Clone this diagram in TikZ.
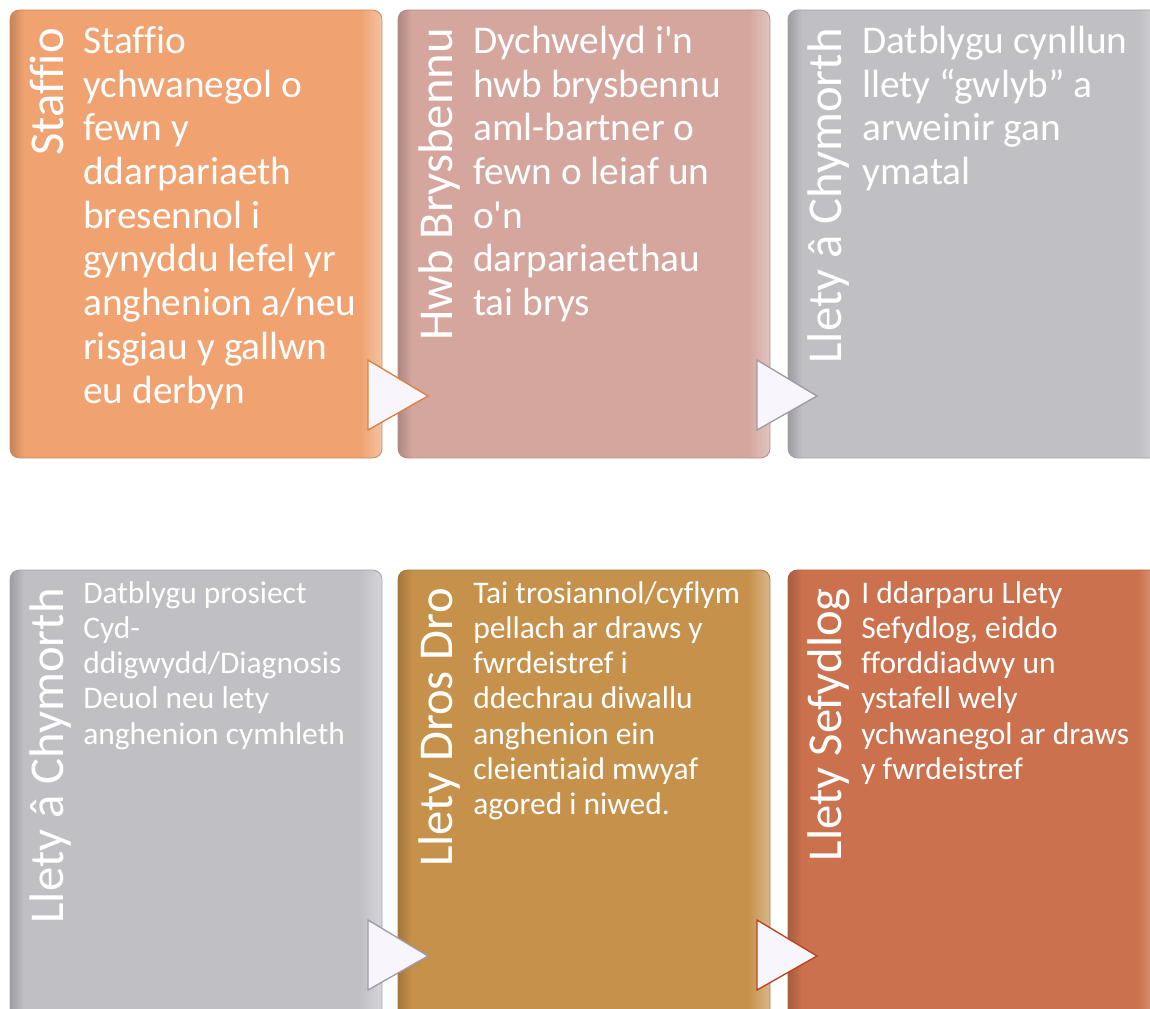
\documentclass[tikz,border=0pt]{standalone}
\usepackage{fontspec}
\setmainfont{Carlito}[Ligatures={TeXOff,CommonOff}]

\definecolor{staffcol}{HTML}{F0A270}
\definecolor{hwbcol}{HTML}{D4A69E}
\definecolor{greycol}{HTML}{C0BFC4}
\definecolor{droscol}{HTML}{C6914B}
\definecolor{sefcol}{HTML}{CB714E}
\definecolor{tipfill}{HTML}{F8F6FC}
\definecolor{tiporange}{HTML}{D98040}
\definecolor{tipgrey}{HTML}{9C9CA8}
\definecolor{tipred}{HTML}{BB4315}

\tikzset{
    stage/.style={rounded corners=7pt, draw=#1!85!black, line width=0.6pt},
    tipshape/.style={fill=tipfill, draw=#1, line width=1pt, line join=miter},
    title/.style={rotate=90, anchor=base east, inner sep=0pt, text=white,
        font=\fontsize{36.5}{40}\selectfont},
    bodybig/.style={anchor=north west, inner sep=0pt, text=white, align=left,
        font=\fontsize{29.5}{32.8}\selectfont},
    bodysmall/.style={anchor=north west, inner sep=0pt, text=white, align=left,
        font=\fontsize{23.6}{26.4}\selectfont}
}

\begin{document}
\begin{tikzpicture}[x=0.75pt,y=-0.75pt]
\useasboundingbox (0,0) rectangle (1150,1009);
\fill[white] (0,0) rectangle (1150,1009);
\clip (0,0) rectangle (1150,1009);

% the six stages
\foreach \x/\y/\c in {10/10/staffcol, 398/10/hwbcol, 788/10/greycol,
                      10/570/greycol, 398/570/droscol, 788/570/sefcol}{
    \begin{scope}
    \clip[rounded corners=7pt] (\x,\y) rectangle ++(372,448);
    \fill[\c] (\x,\y) rectangle ++(372,448);
    \shade[left color=\c!82!black, right color=\c] (\x,\y) rectangle ++(14,448);
    \shade[left color=\c, right color=\c!65!white] (\x+350,\y) rectangle ++(22,448);
    \end{scope}
    \draw[stage=\c] (\x,\y) rectangle ++(372,448);
}

% arrow tips between stages
\foreach \x/\y/\c in {381/10/tiporange, 770/10/tipgrey, 381/570/tipgrey, 770/570/tipred}{
    \draw[tipshape=\c] (\x-13,\y+350) -- (\x-13,\y+420) -- (\x+47,\y+386) -- cycle;
}

% titles
\node[title] (ttl-staff) at (63,28) {Staffio};
\node[title] (ttl-hwb) at (452,28) {Hwb Brysbennu};
\node[title] (ttl-chym1) at (841,28) {Llety â Chymorth};
\node[title] (ttl-chym2) at (63,588) {Llety â Chymorth};
\node[title] (ttl-dros) at (452,588) {Llety Dros Dro};
\node[title] (ttl-sef) at (841,588) {Llety Sefydlog};

% texts
\node[bodybig] (txt-staff) at (83,22.4) {\strut Staffio\\ychwanegol o\\fewn y\\ddarpariaeth\\bresennol i\\gynyddu lefel yr\\anghenion a/neu\\risgiau y gallwn\\eu derbyn};
\node[bodybig] (txt-hwb) at (473,22.4) {\strut Dychwelyd i'n\\hwb brysbennu\\aml-bartner o\\fewn o leiaf un\\o'n\\darpariaethau\\tai brys};
\node[bodybig] (txt-chym1) at (862,22.4) {\strut Datblygu cynllun\\llety “gwlyb” a\\arweinir gan\\ymatal};

\node[bodysmall] (txt-chym2) at (83,578.4) {\strut Datblygu prosiect\\Cyd-\\ddigwydd/Diagnosis\\Deuol neu lety\\anghenion cymhleth};
\node[bodysmall] (txt-dros) at (473,578.4) {\strut Tai trosiannol/cyflym\\pellach ar draws y\\fwrdeistref i\\ddechrau diwallu\\anghenion ein\\cleientiaid mwyaf\\agored i niwed.};
\node[bodysmall] (txt-sef) at (861,578.4) {\strut I ddarparu Llety\\Sefydlog, eiddo\\fforddiadwy un\\ystafell wely\\ychwanegol ar draws\\y fwrdeistref};

\end{tikzpicture}
\end{document}
